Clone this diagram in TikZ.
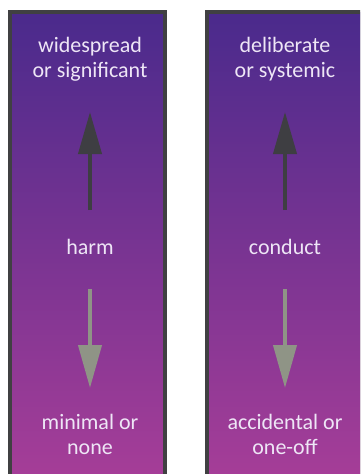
\documentclass[tikz,border=0pt]{standalone}
\usepackage{fontspec}
\setmainfont{Carlito}
\usetikzlibrary{arrows.meta}
\definecolor{ptop}{RGB}{74,42,140}
\definecolor{pbot}{RGB}{168,62,152}
\definecolor{pborder}{RGB}{64,64,66}
\definecolor{upcol}{RGB}{62,62,66}
\definecolor{downcol}{RGB}{143,148,134}
\definecolor{txt}{RGB}{238,230,246}
\tikzset{
  panel/.style={top color=ptop, bottom color=pbot, draw=pborder, line width=4pt},
  lbl/.style={text=txt, align=center, font=\fontsize{22}{25}\selectfont, inner sep=0pt},
  uparrow/.style={draw=upcol, line width=4pt, -{Triangle[width=23pt,length=42pt]}},
  downarrow/.style={draw=downcol, line width=4pt, -{Triangle[width=23pt,length=43pt]}}
}
\begin{document}
\begin{tikzpicture}[x=1pt,y=-1pt]
\useasboundingbox (0,0) rectangle (360,474);
\clip (0,0) rectangle (360,474);
\fill[white] (0,0) rectangle (360,474);
% panels
\draw[panel] (10,12) rectangle (165,490);
\draw[panel] (207,12) rectangle (362,490);
% left labels
\node[lbl] (lt) at (90,59) {widespread\\or significant};
\node[lbl] (lm) at (90,247) {harm};
\node[lbl] (lb) at (90,434) {minimal or\\none};
% right labels
\node[lbl] (rt) at (285,59) {deliberate\\or systemic};
\node[lbl] (rm) at (285,247) {conduct};
\node[lbl] (rb) at (285,434) {accidental or\\one-off};
% arrow coordinates
\coordinate (lus) at (90,210);
\coordinate (lue) at (90,112);
\coordinate (lds) at (90,289);
\coordinate (lde) at (90,388);
\coordinate (rus) at (285,210);
\coordinate (rue) at (285,112);
\coordinate (rds) at (285,289);
\coordinate (rde) at (285,388);
\draw[uparrow] (lus) -- (lue);
\draw[downarrow] (lds) -- (lde);
\draw[uparrow] (rus) -- (rue);
\draw[downarrow] (rds) -- (rde);
\end{tikzpicture}
\end{document}
